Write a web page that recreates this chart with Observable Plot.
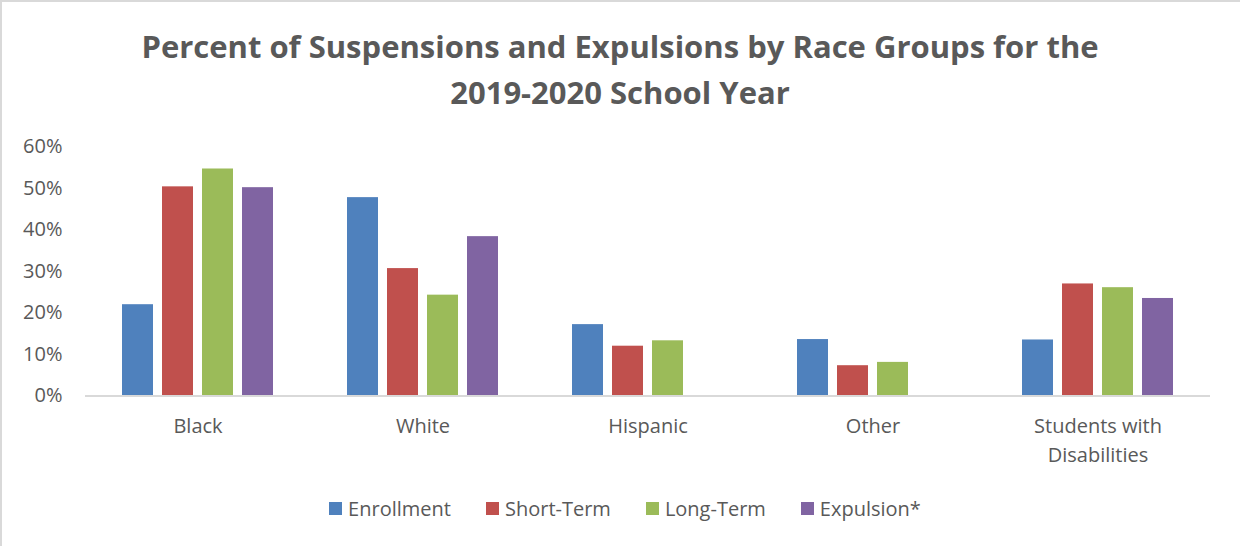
<!DOCTYPE html>
<html>
<head>
<meta charset="utf-8">
<script src="https://cdn.jsdelivr.net/npm/d3@7"></script>
<script src="https://cdn.jsdelivr.net/npm/@observablehq/plot@0.6"></script>
<style>
  html, body { margin: 0; padding: 0; background: #fff; }
  #wrap { position: relative; width: 1240px; height: 546px; overflow: hidden; background: #fff; font-family: "Open Sans", sans-serif; color: #595959; }
  #bt { position: absolute; left: 0; top: 0; width: 1240px; height: 2px; background: #d9d9d9; }
  #bl { position: absolute; left: 0; top: 0; width: 2px; height: 546px; background: #d9d9d9; }
  #title { position: absolute; left: 0; top: 23px; width: 1240px; text-align: center; font-weight: 700; font-size: 31px; line-height: 46px; color: #595959; }
  #chart { position: absolute; left: 0; top: 120px; }
  #legend { position: absolute; left: 10px; top: 492px; width: 1230px; display: flex; justify-content: center; }
  #legend > div { justify-content: center; }
  .lg-swatch { margin-right: 35px !important; }
  .lg-swatch:last-child { margin-right: 0 !important; }
  .lg-swatch > svg { margin-right: 6px !important; }
</style>
</head>
<body>
<div id="wrap">
  <div id="bt"></div><div id="bl"></div>
  <div id="title">Percent of Suspensions and Expulsions by Race Groups for the<br>2019-2020 School Year</div>
  <div id="chart"></div>
  <div id="legend"></div>
</div>
<script>
const categories = ["Black", "White", "Hispanic", "Other", "Students with Disabilities"];
const series = ["Enrollment", "Short-Term", "Long-Term", "Expulsion*"];
const enrollment = [22.0, 47.8, 17.2, 13.6, 13.5];
const shortTerm  = [50.4, 30.7, 12.0, 7.3, 27.0];
const longTerm   = [54.7, 24.3, 13.3, 8.1, 26.1];
const expulsion  = [50.2, 38.4, null, null, 23.5];
const yTicks = [0, 10, 20, 30, 40, 50, 60];
const colors = ["#4F81BD", "#C0504D", "#9BBB59", "#8064A2"];

const seriesValues = [enrollment, shortTerm, longTerm, expulsion];
const rows = [];
categories.forEach((c, i) => {
  series.forEach((s, j) => {
    const v = seriesValues[j][i];
    if (v != null) rows.push({category: c, series: s, value: v});
  });
});

const chart = Plot.plot({
  width: 1240,
  height: 360,
  marginLeft: 83,
  marginRight: 28,
  marginTop: 26.5,
  marginBottom: 84.5,
  style: {fontFamily: "Open Sans, sans-serif", fontSize: "20px", color: "#595959", background: "transparent"},
  fx: {domain: categories, padding: 0, label: null, axis: null},
  x: {domain: series, paddingInner: 0.22, paddingOuter: 0.866, axis: null},
  y: {domain: [0, 60], axis: null},
  color: {domain: series, range: colors},
  marks: [
    Plot.axisY({ticks: yTicks, tickFormat: d => d + "%", tickSize: 0, tickPadding: 23, label: null, fontSize: 20}),
    Plot.axisFx({anchor: "bottom", tickSize: 0, tickPadding: 16, label: null, fontSize: 20, lineWidth: 7.5, lineHeight: 1.45}),
    Plot.barY(rows, {fx: "category", x: "series", y: "value", fill: "series"}),
    Plot.ruleY([0], {stroke: "#d9d9d9", strokeWidth: 2})
  ]
});
document.getElementById("chart").appendChild(chart);

const legend = Plot.legend({
  color: {domain: series, range: colors},
  legend: "swatches",
  swatchSize: 13,
  className: "lg",
  style: {fontFamily: "Open Sans, sans-serif", fontSize: "20px", color: "#595959"}
});
document.getElementById("legend").appendChild(legend);
</script>
</body>
</html>
